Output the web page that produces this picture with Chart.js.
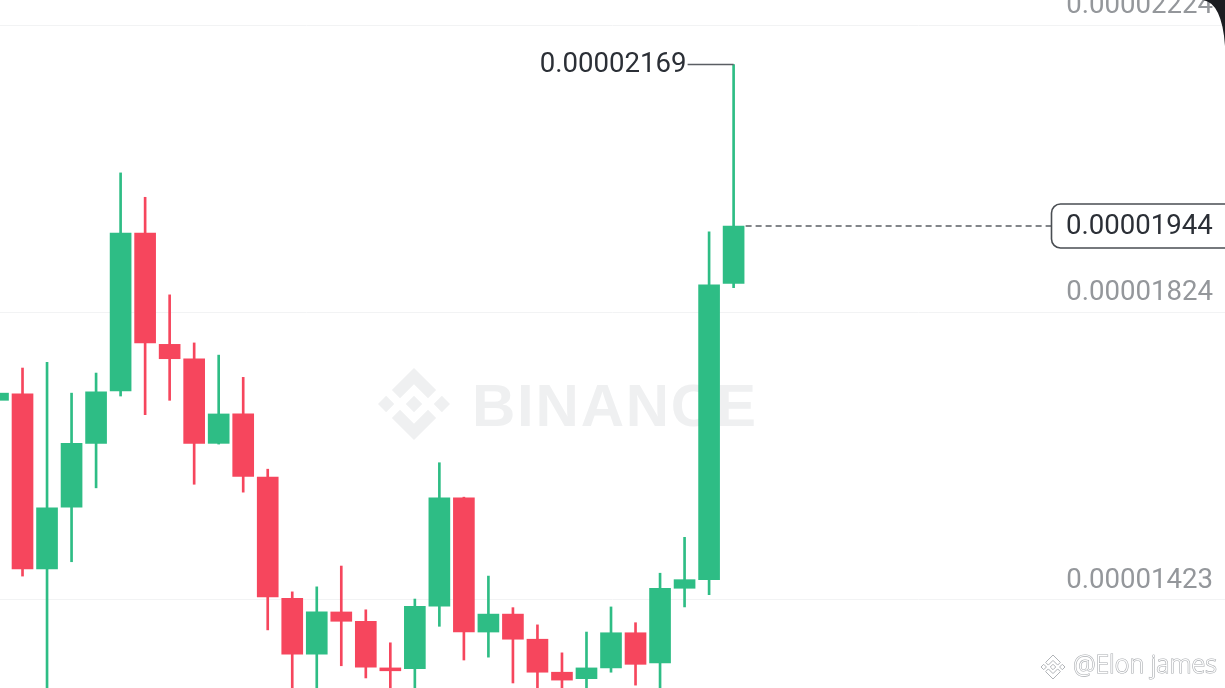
<!DOCTYPE html>
<html><head><meta charset="utf-8">
<script src="https://cdn.jsdelivr.net/npm/chart.js@4.4.1/dist/chart.umd.min.js"></script>
<style>html,body{margin:0;padding:0;background:#fff;overflow:hidden}#wrap{position:relative;width:1225px;height:688px}</style>
</head><body><div id="wrap"><canvas id="c" width="1225" height="688"></canvas></div>
<script>
// Candle index (oldest partially visible at the left edge)
const candleIndex = [0,1,2,3,4,5,6,7,8,9,10,11,12,13,14,15,16,17,18,19,20,21,22,23,24,25,26,27,28,29,30];
const openPrice  = [0.00001701,0.00001710,0.00001466,0.00001552,0.00001641,0.00001714,0.00001934,0.00001779,0.00001759,0.00001641,0.00001682,0.00001594,0.00001425,0.00001347,0.00001406,0.00001393,0.00001328,0.00001327,0.00001414,0.00001565,0.00001378,0.00001403,0.00001368,0.00001322,0.00001313,0.00001328,0.00001377,0.00001335,0.00001439,0.00001451,0.00001864];
const highPrice  = [0.00001761,0.00001746,0.00001754,0.00001711,0.00001739,0.00002018,0.00001984,0.00001848,0.00001781,0.00001764,0.00001733,0.00001605,0.00001434,0.00001441,0.00001470,0.00001409,0.00001363,0.00001424,0.00001614,0.00001566,0.00001456,0.00001412,0.00001388,0.00001349,0.00001378,0.00001413,0.00001391,0.00001460,0.00001510,0.00001936,0.00002169];
const lowPrice   = [0.00001664,0.00001456,0.00001283,0.00001476,0.00001579,0.00001707,0.00001681,0.00001701,0.00001584,0.00001640,0.00001573,0.00001381,0.00001283,0.00001283,0.00001331,0.00001314,0.00001283,0.00001283,0.00001386,0.00001339,0.00001343,0.00001307,0.00001283,0.00001283,0.00001283,0.00001322,0.00001304,0.00001283,0.00001413,0.00001430,0.00001858];
const closePrice = [0.00001711,0.00001466,0.00001551,0.00001641,0.00001713,0.00001934,0.00001781,0.00001759,0.00001641,0.00001682,0.00001595,0.00001427,0.00001347,0.00001406,0.00001393,0.00001329,0.00001324,0.00001414,0.00001565,0.00001378,0.00001403,0.00001368,0.00001322,0.00001311,0.00001328,0.00001377,0.00001333,0.00001439,0.00001451,0.00001862,0.00001944];
const yTickValues = [0.00001423, 0.00001824, 0.00002224];
const xGridIndex = [14];
const lastPriceLabel = '0.00001944';
const highLabel = '0.00002169';
const watermarkText = 'BINANCE';
const authorText = '@Elon james';

const GREEN = '#2ebd85', RED = '#f6465d';
const colors = candleIndex.map(i => closePrice[i] >= openPrice[i] ? GREEN : RED);
const FONT = 'Roboto, "Noto Sans", sans-serif';

function binanceLogo(ctx, cx, cy, size, mode) {
  const k = size / 126.6;
  const P = pts => { ctx.beginPath(); pts.forEach((p, j) => { const x = cx + (p[0]-63.3)*k, y = cy + (p[1]-63.3)*k; j ? ctx.lineTo(x,y) : ctx.moveTo(x,y); }); ctx.closePath(); mode === 'fill' ? ctx.fill() : ctx.stroke(); };
  P([[38.7,53.2],[63.3,28.6],[87.9,53.2],[102.2,38.9],[63.3,0],[24.4,38.9]]);
  P([[38.7,73.4],[63.3,98],[87.9,73.4],[102.2,87.7],[63.3,126.6],[24.4,87.7]]);
  P([[0,63.3],[14.3,49],[28.6,63.3],[14.3,77.6]]);
  P([[98,63.3],[112.3,49],[126.6,63.3],[112.3,77.6]]);
  P([[48.8,63.3],[63.3,48.8],[77.8,63.3],[63.3,77.8]]);
}

const watermarkPlugin = {
  id: 'watermark',
  beforeDatasetsDraw(chart) {
    const ctx = chart.ctx;
    ctx.save();
    ctx.fillStyle = '#eff0f1';
    binanceLogo(ctx, 414, 404, 72, 'fill');
    ctx.font = 'bold 60px "Liberation Sans", sans-serif';
    ctx.textBaseline = 'alphabetic';
    ctx.textAlign = 'left';
    const chars = watermarkText.split('');
    const w = chars.reduce((s, ch) => s + ctx.measureText(ch).width, 0);
    const gap = (284 - w) / (chars.length - 1);
    let x = 472;
    chars.forEach(ch => { ctx.fillText(ch, x, 426); x += ctx.measureText(ch).width + gap; });
    ctx.restore();
  }
};

const overlayPlugin = {
  id: 'overlay',
  afterDatasetsDraw(chart) {
    const ctx = chart.ctx;
    const xs = chart.scales.x, ys = chart.scales.y;
    const last = candleIndex.length - 1;
    const lx = xs.getPixelForValue(candleIndex[last]);
    ctx.save();
    // high marker
    const hy = ys.getPixelForValue(highPrice[last]);
    ctx.strokeStyle = '#5a5e63'; ctx.lineWidth = 1.5;
    ctx.beginPath(); ctx.moveTo(lx - 46, hy); ctx.lineTo(lx, hy); ctx.stroke();
    ctx.font = '27.6px ' + FONT; ctx.fillStyle = '#2b2f36';
    ctx.textAlign = 'right'; ctx.textBaseline = 'middle';
    ctx.fillText(highLabel, lx - 47, hy + 1);
    // last price dashed line + box
    const cy = ys.getPixelForValue(closePrice[last]);
    ctx.setLineDash([6, 4]); ctx.strokeStyle = '#5a5e63'; ctx.lineWidth = 1.3;
    ctx.beginPath(); ctx.moveTo(lx + 12, cy); ctx.lineTo(1051, cy); ctx.stroke();
    ctx.setLineDash([]);
    ctx.fillStyle = '#ffffff'; ctx.strokeStyle = '#4a4e53'; ctx.lineWidth = 1.6;
    ctx.beginPath(); ctx.roundRect(1051.5, cy - 22, 190, 44, 9); ctx.fill(); ctx.stroke();
    ctx.fillStyle = '#2b2f36'; ctx.textAlign = 'left';
    ctx.fillText(lastPriceLabel, 1066, cy + 1);
    // author watermark
    ctx.font = '300 25px "Open Sans", sans-serif';
    ctx.textAlign = 'right'; ctx.textBaseline = 'middle';
    ctx.lineWidth = 1.2; ctx.strokeStyle = '#a9acb0'; ctx.fillStyle = '#ffffff';
    ctx.strokeText(authorText, 1217, 666); ctx.fillText(authorText, 1217, 666);
    ctx.strokeStyle = '#b0b3b7'; ctx.lineWidth = 1;
    binanceLogo(ctx, 1053, 667, 24, 'stroke');
    // dark phone corner
    ctx.fillStyle = '#1b1d21';
    ctx.beginPath(); ctx.moveTo(1203, 0); ctx.quadraticCurveTo(1222, 3, 1225, 46); ctx.lineTo(1225, 0); ctx.closePath(); ctx.fill();
    ctx.restore();
  }
};

new Chart(document.getElementById('c'), {
  type: 'bar',
  data: {
    datasets: [
      {
        label: 'body',
        data: candleIndex.map(i => ({ x: i, y: [openPrice[i], closePrice[i]] })),
        backgroundColor: colors,
        barThickness: 21,
        minBarLength: 2,
        grouped: false,
        borderWidth: 0
      },
      {
        label: 'wick',
        data: candleIndex.map(i => ({ x: i, y: [lowPrice[i], highPrice[i]] })),
        backgroundColor: colors,
        barThickness: 2,
        grouped: false,
        borderWidth: 0
      }
    ]
  },
  options: {
    responsive: false,
    devicePixelRatio: 1,
    animation: false,
    layout: { padding: 0 },
    plugins: { legend: { display: false }, tooltip: { enabled: false } },
    scales: {
      x: {
        type: 'linear',
        offset: false,
        min: 0.0816,
        max: 50.04,
        border: { display: false },
        grid: { color: '#f3f4f5', lineWidth: 1, drawTicks: false },
        ticks: { display: false },
        afterBuildTicks: s => { s.ticks = xGridIndex.map(v => ({ value: v })); },
        afterFit: s => { s.height = 0; s.paddingLeft = 0; s.paddingRight = 0; }
      },
      y: {
        type: 'linear',
        position: 'right',
        min: 0.000013,
        max: 0.00002259,
        border: { display: false },
        grid: { color: '#f2f3f4', lineWidth: 1, drawTicks: false },
        ticks: {
          mirror: true,
          padding: -12,
          labelOffset: -19,
          color: '#94979b',
          font: { family: 'Roboto', size: 27.6 },
          callback: v => Number(v).toFixed(8)
        },
        afterBuildTicks: s => { s.ticks = yTickValues.map(v => ({ value: v })); },
        afterFit: s => { s.width = 0; s.paddingTop = 0; s.paddingBottom = 0; }
      }
    }
  },
  plugins: [watermarkPlugin, overlayPlugin]
});
</script>
</body></html>
